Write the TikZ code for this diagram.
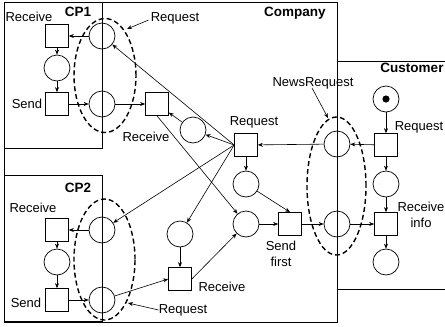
\documentclass[tikz,border=0pt]{standalone}
\usepackage{fontspec}
\setmainfont{Liberation Sans}
\usetikzlibrary{arrows.meta}
\begin{document}
\begin{tikzpicture}[x=1pt,y=-1pt,
  pl/.style={circle, draw, minimum size=26pt, inner sep=0pt, line width=0.7pt},
  tr/.style={rectangle, draw, minimum size=23pt, inner sep=0pt, line width=0.7pt},
  arc/.style={-{Stealth[length=5pt,width=4pt]}, line width=0.6pt},
  lbl/.style={font=\fontsize{13}{16}\selectfont, inner sep=0pt, align=center},
  blbl/.style={font=\bfseries\fontsize{13.5}{16}\selectfont, inner sep=0pt},
  frame/.style={line width=0.9pt},
  grp/.style={dash pattern=on 5pt off 3pt, line width=1.4pt}]
\useasboundingbox (0,0) rectangle (445,327);

% frames
\draw[frame] (4,2) rectangle (337,322);
\draw[frame] (4,2) rectangle (102,148);
\draw[frame] (4,175) rectangle (102,321);
\draw[frame] (445,61) -- (337,61) -- (337,289) -- (445,289);

% CP1
\node[tr] (t1recv) at (57,36) {};
\node[pl] (p1mid) at (57,68) {};
\node[tr] (t1send) at (57,104) {};
\node[pl] (p1top) at (102,36) {};
\node[pl] (p1bot) at (102,104) {};
% CP2
\node[tr] (t2recv) at (57,230) {};
\node[pl] (p2mid) at (57,262) {};
\node[tr] (t2send) at (57,300) {};
\node[pl] (p2top) at (102,230) {};
\node[pl] (p2bot) at (102,300) {};
% Company
\node[tr] (tCrecv1) at (157,104) {};
\node[pl] (pA) at (193,130) {};
\node[tr] (tReq) at (246,145) {};
\node[pl] (pB) at (246,184) {};
\node[pl] (pD) at (246,224) {};
\node[pl] (pC) at (180,234) {};
\node[tr] (tCrecv2) at (180,279) {};
\node[tr] (tSend) at (290,224) {};
\node[pl] (pNews) at (337,144) {};
\node[pl] (pInfo) at (337,224) {};
% Customer
\node[pl] (pStart) at (386,99) {};
\fill (pStart.center) circle[radius=3.6pt];
\node[tr] (tCustReq) at (386,145) {};
\node[pl] (pE) at (386,184) {};
\node[tr] (tRecvInfo) at (386,224) {};
\node[pl] (pEnd) at (386,262) {};

% dashed groups
\draw[grp] (105,75.5) ellipse [x radius=31pt, y radius=57pt];
\draw[grp] (104.5,259.5) ellipse [x radius=30.5pt, y radius=60.5pt];
\draw[grp] (336.5,186) ellipse [x radius=29.5pt, y radius=69pt];

% arcs CP1
\draw[arc] (p1top) -- (t1recv);
\draw[arc] (t1recv) -- (p1mid);
\draw[arc] (p1mid) -- (t1send);
\draw[arc] (t1send) -- (p1bot);
% arcs CP2
\draw[arc] (p2top) -- (t2recv);
\draw[arc] (t2recv) -- (p2mid);
\draw[arc] (p2mid) -- (t2send);
\draw[arc] (t2send) -- (p2bot);
% company arcs
\draw[arc] (p1bot) -- (tCrecv1);
\draw[arc] (tReq.west) -- (p1top);
\draw[arc] (tReq.west) -- (pA);
\draw[arc] (pA) -- (tCrecv1);
\draw[arc] (tReq) -- (pB);
\draw[arc] (tReq.west) -- (p2top);
\draw[arc] (tReq.west) -- (pC);
\draw[arc] (tCrecv1.south) -- (pD);
\draw[arc] (pC) -- (tCrecv2);
\draw[arc] (p2bot) -- (tCrecv2.west);
\draw[arc] (tCrecv2.east) -- (pD);
\draw[arc] (pB) -- (tSend.north);
\draw[arc] (pD) -- (tSend);
\draw[arc] (tSend) -- (pInfo);
\draw[arc] (pInfo) -- (tRecvInfo);
\draw[arc] (pNews) -- (tReq);
% customer arcs
\draw[arc] (pStart) -- (tCustReq);
\draw[arc] (tCustReq) -- (pNews);
\draw[arc] (tCustReq) -- (pE);
\draw[arc] (pE) -- (tRecvInfo);
\draw[arc] (tRecvInfo) -- (pEnd);

% labels
\node[blbl] (lCP1) at (78,12) {CP1};
\node[blbl] (lCP2) at (78,188) {CP2};
\node[blbl] (lComp) at (295,13) {Company};
\node[blbl] (lCust) at (412,68) {Customer};
\node[lbl] (l1) at (29,17) {Receive};
\node[lbl] (l2) at (27,104) {Send};
\node[lbl] (l3) at (33,208) {Receive};
\node[lbl] (l4) at (26,303) {Send};
\node[lbl] (l5) at (146,137) {Receive};
\node[lbl] (l6) at (254,122) {Request};
\node[lbl] (l7) at (222,287) {Receive};
\node[lbl] (l8) at (281,254) {Send\\first};
\node[lbl] (l9) at (419,127) {Request};
\node[lbl] (l10) at (421,215) {Receive\\info};
\node[lbl] (lReq1) at (175,18) {Request};
\node[lbl] (lReq2) at (183,310) {Request};
\node[lbl] (lNews) at (313,83) {NewsRequest};

% label pointers
\coordinate (e1) at (127,29);
\coordinate (e2) at (128,303);
\coordinate (e3) at (328,118);
\coordinate (s3) at (312,88);
\draw[arc] (lReq1.west) ++(-2,2) -- (e1);
\draw[arc] (lReq2.west) -- (e2);
\draw[arc] (s3) -- (e3);
\end{tikzpicture}
\end{document}
